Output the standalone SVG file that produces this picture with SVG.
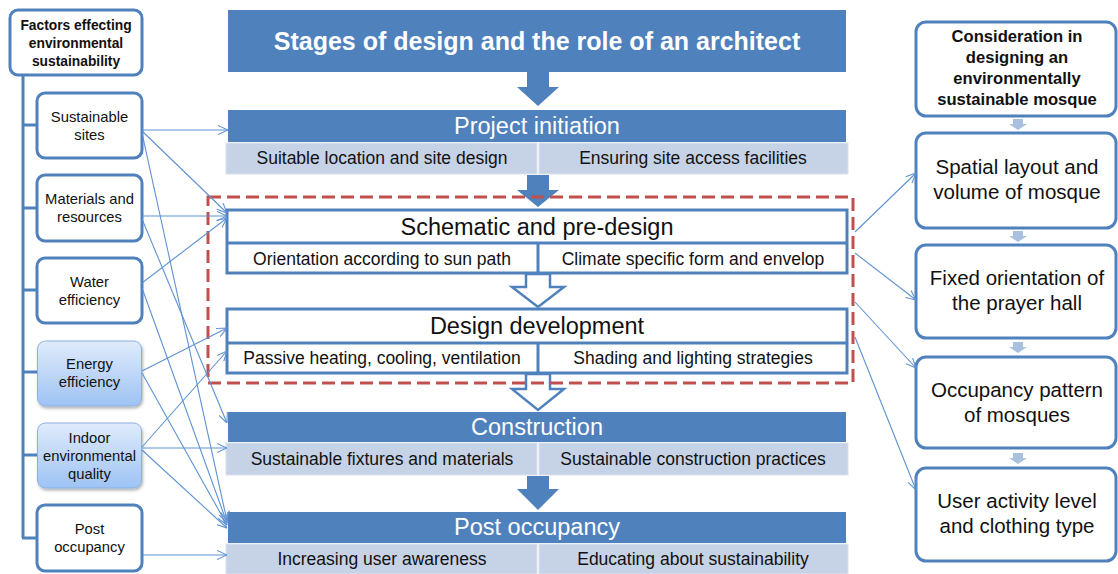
<svg xmlns="http://www.w3.org/2000/svg" width="1118" height="574" viewBox="0 0 1118 574">
<defs>
<style>
.t{font-family:"Liberation Sans",Arial,sans-serif;text-anchor:middle;fill:#111}
.lb{fill:#fff;stroke:#4F81BD;stroke-width:3}
.lt{font-size:14.8px}
.hd{font-size:23.5px;fill:#fff}
.hk{font-size:23.5px}
.sb{font-size:17.5px}
.rt{font-size:20.5px}
.cell{fill:#C6D2E6;stroke:#DCE3EF;stroke-width:1}
.hfill{fill:#4F81BD}
.out{fill:#fff;stroke:#4F81BD;stroke-width:3}
.conn{fill:none;stroke:#5E92D3;stroke-width:1.1;marker-end:url(#ah)}
.harr{fill:#fff;stroke:#4F81BD;stroke-width:2.5;stroke-linejoin:miter}
.sarr{fill:#A9C0DF}
</style>
<marker id="ah" viewBox="0 0 10 10" refX="10" refY="5" markerWidth="10" markerHeight="10" markerUnits="userSpaceOnUse" orient="auto">
<path d="M0,0.5 L10,5 L0,9.5" fill="none" stroke="#5E92D3" stroke-width="1.1"/>
</marker>
<linearGradient id="gb" x1="0" y1="0" x2="0" y2="1">
<stop offset="0" stop-color="#E0EBFB"/>
<stop offset="1" stop-color="#9EC3F4"/>
</linearGradient>
<filter id="sh" x="-10%" y="-10%" width="130%" height="130%">
<feDropShadow dx="1" dy="2" stdDeviation="1.5" flood-color="#000" flood-opacity="0.3"/>
</filter>
</defs>
<rect width="1118" height="574" fill="#fff"/>

<!-- left column -->
<g id="left-trunk" fill="none" stroke="#4F81BD" stroke-width="3">
<path d="M23,76 V538 M22,125 H37 M22,208 H37 M22,290 H37 M22,372 H37 M22,455 H37 M22,538 H37"/>
</g>
<g id="factors-header">
<rect class="lb" x="10" y="10" width="132" height="65" rx="8"/>
<text class="t" x="76" y="30" font-size="13.8" font-weight="bold">Factors effecting</text>
<text class="t" x="76" y="48" font-size="13.8" font-weight="bold">environmental</text>
<text class="t" x="76" y="66" font-size="13.8" font-weight="bold">sustainability</text>
</g>
<g id="f-sites">
<rect class="lb" x="37" y="93" width="105" height="65" rx="8"/>
<text class="t lt" x="89.5" y="122">Sustainable</text>
<text class="t lt" x="89.5" y="140">sites</text>
</g>
<g id="f-materials">
<rect class="lb" x="37" y="175" width="105" height="66" rx="8"/>
<text class="t lt" x="89.5" y="204">Materials and</text>
<text class="t lt" x="89.5" y="222">resources</text>
</g>
<g id="f-water">
<rect class="lb" x="37" y="258" width="105" height="65" rx="8"/>
<text class="t lt" x="89.5" y="287">Water</text>
<text class="t lt" x="89.5" y="305">efficiency</text>
</g>
<g id="f-energy">
<rect x="37.5" y="341" width="104" height="65" rx="8" fill="url(#gb)" stroke="#8BB1E2" stroke-width="1" filter="url(#sh)"/>
<text class="t lt" x="89.5" y="369">Energy</text>
<text class="t lt" x="89.5" y="387">efficiency</text>
</g>
<g id="f-indoor">
<rect x="37.5" y="423" width="104" height="65" rx="8" fill="url(#gb)" stroke="#8BB1E2" stroke-width="1" filter="url(#sh)"/>
<text class="t lt" x="89.5" y="443">Indoor</text>
<text class="t lt" x="89.5" y="461">environmental</text>
<text class="t lt" x="89.5" y="479">quality</text>
</g>
<g id="f-post">
<rect class="lb" x="37" y="505" width="105" height="66" rx="8"/>
<text class="t lt" x="89.5" y="534">Post</text>
<text class="t lt" x="89.5" y="552">occupancy</text>
</g>

<!-- center column -->
<g id="stages-title">
<rect x="228" y="10" width="618" height="62" fill="#4F81BD"/>
<text class="t" x="537" y="50" font-size="25" font-weight="bold" style="fill:#fff">Stages of design and the role of an architect</text>
</g>
<g id="flow-arrows">
<polygon class="hfill" points="527,72 549,72 549,87 559,87 538,106 517,87 527,87"/>
<polygon class="hfill" points="527,175 549,175 549,190 559,190 538,207 517,190 527,190"/>
<polygon class="hfill" points="527,476 549,476 549,489 559,489 538,510 517,489 527,489"/>
<polygon class="harr" points="526,274 550,274 550,287 564,287 538,307 512,287 526,287"/>
<polygon class="harr" points="526,374 550,374 550,389 564,389 538,410 512,389 526,389"/>
</g>
<g id="project-initiation">
<rect class="hfill" x="228" y="110" width="618" height="32"/>
<text class="t hd" x="537" y="134">Project initiation</text>
<rect class="cell" x="226" y="143" width="311" height="31"/>
<rect class="cell" x="539" y="143" width="309" height="31"/>
<text class="t sb" x="382" y="164">Suitable location and site design</text>
<text class="t sb" x="693" y="164">Ensuring site access facilities</text>
</g>
<g id="schematic">
<rect class="out" x="227" y="210" width="620" height="63"/>
<path d="M227,243 H847 M538,243 V273" stroke="#4F81BD" stroke-width="3" fill="none"/>
<text class="t hk" x="537" y="235">Schematic and pre-design</text>
<text class="t sb" x="382" y="265">Orientation according to sun path</text>
<text class="t sb" x="693" y="265">Climate specific form and envelop</text>
</g>
<g id="design-development">
<rect class="out" x="227" y="309" width="620" height="64"/>
<path d="M227,343 H847 M538,343 V373" stroke="#4F81BD" stroke-width="3" fill="none"/>
<text class="t hk" x="537" y="334">Design development</text>
<text class="t sb" x="382" y="364">Passive heating, cooling, ventilation</text>
<text class="t sb" x="693" y="364">Shading and lighting strategies</text>
</g>
<g id="construction">
<rect class="hfill" x="228" y="412" width="618" height="30"/>
<text class="t hd" x="537" y="435">Construction</text>
<rect class="cell" x="226" y="443" width="311" height="32"/>
<rect class="cell" x="539" y="443" width="309" height="32"/>
<text class="t sb" x="382" y="465">Sustainable fixtures and materials</text>
<text class="t sb" x="693" y="465">Sustainable construction practices</text>
</g>
<g id="post-occupancy">
<rect class="hfill" x="228" y="512" width="618" height="31"/>
<text class="t hd" x="537" y="535">Post occupancy</text>
<rect class="cell" x="226" y="544" width="311" height="30"/>
<rect class="cell" x="539" y="544" width="309" height="30"/>
<text class="t sb" x="382" y="565">Increasing user awareness</text>
<text class="t sb" x="693" y="565">Educating about sustainability</text>
</g>
<g id="architect-role-frame">
<rect x="208" y="197" width="645" height="186" fill="none" stroke="#C0504D" stroke-width="3" stroke-dasharray="13 6"/>
</g>

<!-- right column -->
<g id="mosque-header">
<rect class="lb" x="916" y="22" width="200" height="94" rx="10"/>
<text class="t" x="1017" y="42" font-size="16.6" font-weight="bold">Consideration in</text>
<text class="t" x="1017" y="63" font-size="16.6" font-weight="bold">designing an</text>
<text class="t" x="1017" y="84" font-size="16.6" font-weight="bold">environmentally</text>
<text class="t" x="1017" y="105" font-size="16.6" font-weight="bold">sustainable mosque</text>
</g>
<g id="right-arrows">
<polygon class="sarr" points="1013,119 1023,119 1023,124 1027,124 1018,130 1009,124 1013,124"/>
<polygon class="sarr" points="1013,231 1023,231 1023,236 1027,236 1018,242 1009,236 1013,236"/>
<polygon class="sarr" points="1013,342 1023,342 1023,347 1027,347 1018,353 1009,347 1013,347"/>
<polygon class="sarr" points="1013,453 1023,453 1023,458 1027,458 1018,464 1009,458 1013,458"/>
</g>
<g id="m-spatial">
<rect class="lb" x="916" y="133" width="200" height="95" rx="10"/>
<text class="t rt" x="1017" y="174">Spatial layout and</text>
<text class="t rt" x="1017" y="199">volume of mosque</text>
</g>
<g id="m-orientation">
<rect class="lb" x="916" y="245" width="200" height="93" rx="10"/>
<text class="t rt" x="1017" y="285">Fixed orientation of</text>
<text class="t rt" x="1017" y="310">the prayer hall</text>
</g>
<g id="m-occupancy">
<rect class="lb" x="916" y="357" width="200" height="91" rx="10"/>
<text class="t rt" x="1017" y="397">Occupancy pattern</text>
<text class="t rt" x="1017" y="422">of mosques</text>
</g>
<g id="m-user">
<rect class="lb" x="916" y="468" width="200" height="93" rx="10"/>
<text class="t rt" x="1017" y="508">User activity level</text>
<text class="t rt" x="1017" y="533">and clothing type</text>
</g>

<!-- connectors -->
<g id="connectors">
<path class="conn" d="M142,130 L228,130"/>
<path class="conn" d="M142,131 L227,213"/>
<path class="conn" d="M142,133 L227,521"/>
<path class="conn" d="M142,216 L227,216"/>
<path class="conn" d="M142,219 L227,423"/>
<path class="conn" d="M142,283 L227,218"/>
<path class="conn" d="M142,288 L227,523"/>
<path class="conn" d="M142,371 L227,328"/>
<path class="conn" d="M142,373 L227,525"/>
<path class="conn" d="M142,447 L227,351"/>
<path class="conn" d="M142,448 L227,448"/>
<path class="conn" d="M142,450 L227,528"/>
<path class="conn" d="M142,555 L227,555"/>
<path class="conn" d="M855,232 L916,173"/>
<path class="conn" d="M855,253 L916,300"/>
<path class="conn" d="M855,302 L916,368"/>
<path class="conn" d="M855,337 L916,490"/>
</g>
</svg>
